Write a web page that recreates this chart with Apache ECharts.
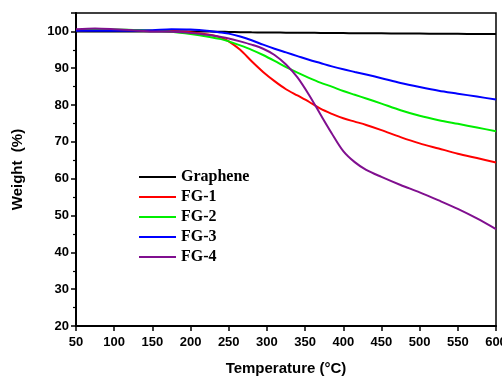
<!DOCTYPE html>
<html>
<head>
<meta charset="utf-8">
<script src="https://cdn.jsdelivr.net/npm/echarts@6/dist/echarts.min.js"></script>
<style>html,body{margin:0;padding:0;background:#fff}#c{width:502px;height:377px}</style>
</head>
<body>
<div id="c"></div>
<script>
const temps = [50,75,100,125,150,175,200,225,240,250,265,280,295,310,325,340,355,370,385,400,415,430,450,475,500,525,550,575,600];
const graphene = [100.0,100.0,100.0,100.0,100.0,100.0,100.0,99.95,99.9,99.85,99.8,99.75,99.72,99.7,99.67,99.65,99.62,99.6,99.58,99.55,99.52,99.5,99.47,99.43,99.4,99.37,99.34,99.32,99.3];
const fg1 = [100.3,100.4,100.4,100.3,100.2,100.1,99.8,99.1,98.3,97.3,95.0,91.9,89.0,86.5,84.3,82.6,80.9,79.0,77.6,76.4,75.5,74.6,73.2,71.3,69.6,68.2,66.8,65.6,64.4];
const fg2 = [100.3,100.4,100.5,100.4,100.2,99.9,99.3,98.5,97.9,97.3,96.2,95.0,93.6,92.0,90.3,88.8,87.4,86.1,85.0,83.8,82.8,81.8,80.4,78.6,77.1,75.9,74.9,73.9,72.9];
const fg3 = [100.2,100.2,100.2,100.2,100.3,100.6,100.5,100.1,99.7,99.4,98.6,97.6,96.4,95.3,94.3,93.3,92.3,91.4,90.5,89.7,89.0,88.3,87.3,86.0,84.9,83.9,83.1,82.3,81.5];
const fg4 = [100.6,100.8,100.6,100.3,100.0,99.9,99.6,99.0,98.5,98.1,97.3,96.4,95.3,93.6,91.0,87.5,82.8,77.5,72.3,67.5,64.5,62.4,60.5,58.3,56.3,54.1,51.8,49.2,46.3];
const names = ['Graphene','FG-1','FG-2','FG-3','FG-4'];
const colors = ['#000000','#ff0000','#00ee00','#0000ff','#800f8f'];
const values = [graphene, fg1, fg2, fg3, fg4];

const chart = echarts.init(document.getElementById('c'));
const sans = '"Liberation Sans", Arial, sans-serif';
chart.setOption({
  animation: false,
  backgroundColor: '#fff',
  grid: {left: 76, right: 6, top: 13, bottom: 51, outerBoundsMode: 'none', containLabel: false, show: true, borderColor: '#000', borderWidth: 1.5, backgroundColor: 'transparent'},
  legend: {
    orient: 'vertical', left: 134, top: 164, itemWidth: 37, itemHeight: 2, itemGap: 4, icon: 'rect',
    data: names.map((n, i) => ({name: n, itemStyle: {color: colors[i]}})),
    textStyle: {fontFamily: '"Liberation Serif", "Times New Roman", serif', fontWeight: 'bold', fontSize: 16, color: '#000', lineHeight: 16}
  },
  xAxis: {
    type: 'value', min: 50, max: 600, interval: 50,
    name: 'Temperature (°C)', nameLocation: 'middle', nameGap: 35,
    nameTextStyle: {fontFamily: sans, fontWeight: 'bold', fontSize: 15, color: '#000'},
    axisLine: {show: true, lineStyle: {color: '#000', width: 2}},
    axisTick: {show: true, inside: false, length: 5, lineStyle: {color: '#000', width: 1.5}},
    axisLabel: {fontFamily: sans, fontWeight: 'bold', fontSize: 13, color: '#000', margin: 10},
    splitLine: {show: false}
  },
  yAxis: {
    type: 'value', min: 20, max: 105, interval: 10,
    name: 'Weight  (%)', nameLocation: 'middle', nameGap: 51,
    nameTextStyle: {fontFamily: sans, fontWeight: 'bold', fontSize: 15, color: '#000'},
    axisLine: {show: true, lineStyle: {color: '#000', width: 2}},
    axisTick: {show: true, inside: false, length: 5, lineStyle: {color: '#000', width: 1.5}},
    minorTick: {show: true, splitNumber: 2, length: 3, lineStyle: {color: '#000', width: 1.2}},
    axisLabel: {fontFamily: sans, fontWeight: 'bold', fontSize: 13, color: '#000', margin: 7, showMaxLabel: false},
    splitLine: {show: false}
  },
  series: names.map((n, i) => ({
    name: n, type: 'line', symbol: 'none', smooth: 0.3,
    lineStyle: {color: colors[i], width: 2},
    itemStyle: {color: colors[i]},
    data: temps.map((t, j) => [t, values[i][j]])
  }))
});
</script>
</body>
</html>
